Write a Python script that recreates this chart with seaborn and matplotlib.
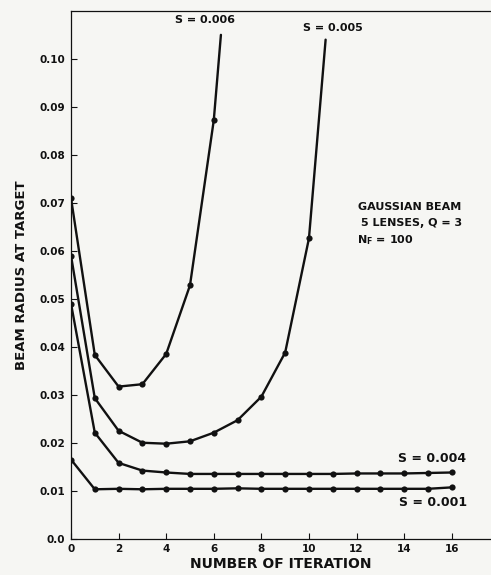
import numpy as np
import pandas as pd
import matplotlib
matplotlib.use("Agg")
import matplotlib.pyplot as plt
import seaborn as sns

# values (beam radius at target vs iteration)
iters = list(range(17))

s006_x = [0, 1, 2, 3, 4, 5, 6]
s006_y = [0.071, 0.0383, 0.0317, 0.0322, 0.0385, 0.0528, 0.0872]
s006_end = (6.3, 0.105)   # curve leaves the drawing here

s005_x = [0, 1, 2, 3, 4, 5, 6, 7, 8, 9, 10]
s005_y = [0.059, 0.0293, 0.0225, 0.0200, 0.0198, 0.0203, 0.0221, 0.0247,
          0.0296, 0.0388, 0.0626]
s005_end = (10.7, 0.104)

s004_y = [0.049, 0.0221, 0.0158, 0.0142, 0.0138, 0.0135, 0.0135, 0.0135,
          0.0135, 0.0135, 0.0135, 0.0135, 0.0136, 0.0136, 0.0136, 0.0137, 0.0138]
s001_y = [0.0165, 0.0103, 0.0104, 0.0103, 0.0104, 0.0104, 0.0104, 0.0105,
          0.0104, 0.0104, 0.0104, 0.0104, 0.0104, 0.0104, 0.0104, 0.0104, 0.0107]

x_ticks = [0, 2, 4, 6, 8, 10, 12, 14, 16]
y_ticks = [0.0, 0.01, 0.02, 0.03, 0.04, 0.05, 0.06, 0.07, 0.08, 0.09, 0.10]
y_tick_labels = ["0.0", "0.01", "0.02", "0.03", "0.04", "0.05",
                 "0.06", "0.07", "0.08", "0.09", "0.10"]

sns.set_style("ticks")
plt.rcParams["font.family"] = ["DejaVu Sans"]
bg = "#f6f6f3"
ink = "#111111"

fig = plt.figure(figsize=(4.91, 5.75), dpi=100, facecolor=bg)
ax = fig.add_axes([0.1446, 0.0631, 0.8554, 0.918])
ax.set_facecolor(bg)

line_kw = dict(color=ink, linewidth=1.7, legend=False, ax=ax)
mark_kw = dict(color=ink, s=20, linewidth=0, legend=False, ax=ax, zorder=3)

# curves that run off the top: line through markers plus the end point
for xs, ys, end in [(s006_x, s006_y, s006_end), (s005_x, s005_y, s005_end)]:
    df = pd.DataFrame({"x": xs + [end[0]], "y": ys + [end[1]]})
    sns.lineplot(data=df, x="x", y="y", sort=False, **line_kw)
    sns.scatterplot(x=xs, y=ys, **mark_kw)

for ys in [s004_y, s001_y]:
    df = pd.DataFrame({"x": iters, "y": ys})
    sns.lineplot(data=df, x="x", y="y", **line_kw)
    sns.scatterplot(data=df, x="x", y="y", **mark_kw)

ax.set_xlim(0, 17.65)
ax.set_ylim(0, 0.11)
ax.set_xticks(x_ticks)
ax.set_yticks(y_ticks)
ax.set_yticklabels(y_tick_labels)
ax.tick_params(direction="in", length=4, width=0.8, colors=ink,
               labelsize=7.5, pad=4)
for lab in ax.get_xticklabels() + ax.get_yticklabels():
    lab.set_fontweight("semibold")
for sp in ["left", "bottom", "top"]:
    ax.spines[sp].set_linewidth(0.9)
    ax.spines[sp].set_color(ink)
ax.spines["right"].set_visible(False)

ax.set_xlabel("NUMBER OF ITERATION", fontsize=10, fontweight="bold",
              color=ink, labelpad=2)
ax.set_ylabel("BEAM RADIUS AT TARGET", fontsize=9.5, fontweight="bold",
              color=ink, labelpad=8)

txt = dict(fontsize=8, fontweight="bold", color=ink)
ax.text(5.63, 0.108, "S = 0.006", ha="center", va="center", **txt)
ax.text(11.0, 0.1064, "S = 0.005", ha="center", va="center", **txt)
ax.text(13.74, 0.0168, "S = 0.004", ha="left", va="center", fontsize=9,
        fontweight="semibold", color=ink)
ax.text(13.8, 0.0076, "S = 0.001", ha="left", va="center", fontsize=9,
        fontweight="semibold", color=ink)
ax.text(12.06, 0.0691, "GAUSSIAN BEAM", ha="left", va="center", **txt)
ax.text(12.2, 0.0657, "5 LENSES, Q = 3", ha="left", va="center",
        fontsize=8, fontweight="semibold", color=ink)
ax.text(12.0, 0.0622, "N$_\\mathbf{F}$ = 100", ha="left", va="center",
        fontsize=8, fontweight="semibold", color=ink)

fig.savefig("out.png", dpi=100, facecolor=bg)
